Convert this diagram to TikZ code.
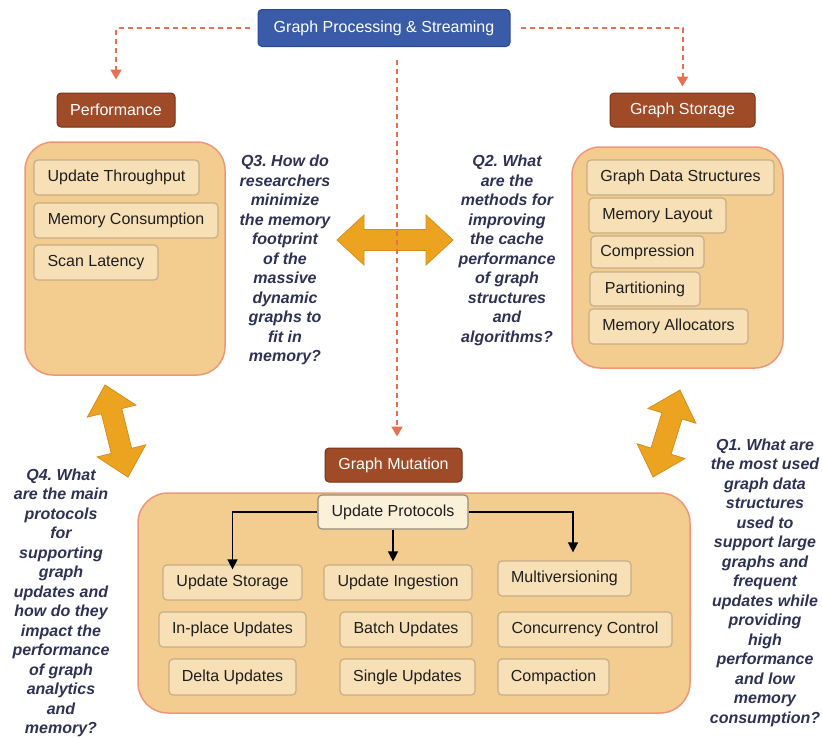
\documentclass[tikz,border=0pt]{standalone}
\usepackage{fontspec}
\setmainfont{Liberation Sans}
\usetikzlibrary{arrows.meta,calc}
\frenchspacing
\definecolor{topblue}{RGB}{58,92,168}
\definecolor{topblueb}{RGB}{44,74,140}
\definecolor{hbrown}{RGB}{160,75,40}
\definecolor{hbrownb}{RGB}{118,50,22}
\definecolor{panelfill}{RGB}{243,205,143}
\definecolor{panelborder}{RGB}{240,150,120}
\definecolor{subfill}{RGB}{248,224,182}
\definecolor{subborder}{RGB}{198,174,136}
\definecolor{upfill}{RGB}{251,240,216}
\definecolor{upborder}{RGB}{150,140,125}
\definecolor{bigarrowfill}{RGB}{236,164,32}
\definecolor{bigarrowborder}{RGB}{214,140,28}
\definecolor{dashcol}{RGB}{232,112,80}
\definecolor{qcol}{RGB}{45,50,85}
\definecolor{txtcol}{RGB}{30,30,30}
\newcommand{\dblarrow}[4]{%
  \begin{scope}[shift={(#1,#2)},rotate=#3]
    \pgfmathsetmacro{\arha}{#4/2}
    \pgfmathsetmacro{\arhb}{#4/2-27}
    \filldraw[bigarrow] (-\arha,0) -- (-\arhb,25) -- (-\arhb,10.5) -- (\arhb,10.5) -- (\arhb,25) -- (\arha,0)
      -- (\arhb,-25) -- (\arhb,-10.5) -- (-\arhb,-10.5) -- (-\arhb,-25) -- cycle;
  \end{scope}}
\begin{document}
\begin{tikzpicture}[x=1pt,y=-1pt,
  txt/.style={font=\fontsize{16}{19.5}\selectfont},
  headbox/.style={txt, draw=hbrownb, fill=hbrown, text=white, rounded corners=4pt, line width=1pt, inner sep=0pt, minimum height=34pt},
  topbox/.style={txt, draw=topblueb, fill=topblue, text=white, rounded corners=4pt, line width=1pt, inner sep=0pt, minimum height=37pt},
  panel/.style={draw=panelborder, fill=panelfill, rounded corners=28pt, line width=1.5pt, inner sep=0pt},
  subbox/.style={txt, draw=subborder, fill=subfill, text=txtcol, rounded corners=4pt, line width=1.2pt, inner sep=0pt, minimum height=35pt},
  upbox/.style={txt, draw=upborder, fill=upfill, text=txtcol, rounded corners=4pt, line width=1.2pt, inner sep=0pt, minimum height=34pt},
  qtext/.style={font=\fontsize{16}{19.5}\selectfont\bfseries\itshape, text=qcol, align=center, inner sep=0pt},
  dashconn/.style={draw=dashcol, line width=2pt, dash pattern=on 5pt off 4pt, -{Triangle[length=10pt,width=11pt]}},
  blackconn/.style={draw=black, line width=1.4pt, -{Triangle[length=10pt,width=10pt]}},
  bigarrow/.style={fill=bigarrowfill, draw=bigarrowborder, line width=0.8pt, line join=miter}
]
\useasboundingbox (0,0) rectangle (822,737);

% panels
\node[panel, minimum width=200pt, minimum height=233pt] (perfpanel) at (125,258.5) {};
\node[panel, minimum width=211pt, minimum height=221pt] (storpanel) at (677.5,257.5) {};
\node[panel, minimum width=552pt, minimum height=220pt, rounded corners=30pt] (mutpanel) at (414,603) {};

% header boxes
\node[topbox, minimum width=252pt] (top) at (384,28) {Graph Processing \& Streaming};
\node[headbox, minimum width=118pt] (perf) at (116,110) {Performance};
\node[headbox, minimum width=145pt] (gstor) at (682.5,110) {Graph Storage};
\node[headbox, minimum width=137pt] (mut) at (393.5,465) {Graph Mutation};

% performance items
\node[subbox, minimum width=165pt] (ut) at (116.5,177.5) {Update Throughput};
\node[subbox, minimum width=184pt] (mc) at (126,220.5) {Memory Consumption};
\node[subbox, minimum width=124pt] (sl) at (96,262.5) {Scan Latency};

% storage items
\node[subbox, minimum width=187pt] (gds) at (680.5,177.5) {Graph Data Structures};
\node[subbox, minimum width=137pt] (ml) at (657.5,215.5) {Memory Layout};
\node[subbox, minimum width=113pt, minimum height=32pt] (cp) at (647.5,252) {Compression};
\node[subbox, minimum width=110pt, minimum height=34pt] (pt) at (645,289) {Partitioning};
\node[subbox, minimum width=159pt] (ma) at (668.5,326.5) {Memory Allocators};

% mutation items
\node[upbox, minimum width=150pt] (up) at (393,512) {Update Protocols};
\node[subbox, minimum width=139pt] (us) at (232.5,582.5) {Update Storage};
\node[subbox, minimum width=148pt] (ui) at (398,582.5) {Update Ingestion};
\node[subbox, minimum width=133pt] (mv) at (564.5,578.5) {Multiversioning};
\node[subbox, minimum width=147pt] (ip) at (232.5,629.5) {In-place Updates};
\node[subbox, minimum width=132pt] (bu) at (406,629.5) {Batch Updates};
\node[subbox, minimum width=174pt] (cc) at (585,629.5) {Concurrency Control};
\node[subbox, minimum width=127pt, minimum height=36pt] (du) at (232.5,677) {Delta Updates};
\node[subbox, minimum width=135pt, minimum height=36pt] (su) at (407.5,677) {Single Updates};
\node[subbox, minimum width=111pt, minimum height=36pt] (cm) at (553.5,677) {Compaction};

% question texts
\node[qtext] (q3) at (285,260) {Q3. How do\\researchers\\minimize\\the memory\\footprint\\of the\\massive\\dynamic\\graphs to\\fit in\\memory?};
\node[qtext] (q2) at (507,250.5) {Q2. What\\are the\\methods for\\improving\\the cache\\performance\\of graph\\structures\\and\\algorithms?};
\node[qtext] (q4) at (61,603) {Q4. What\\are the main\\protocols\\for\\supporting\\graph\\updates and\\how do they\\impact the\\performance\\of graph\\analytics\\and\\memory?};
\node[qtext] (q1) at (765,582.5) {Q1. What are\\the most used\\graph data\\structures\\used to\\support large\\graphs and\\frequent\\updates while\\providing\\high\\performance\\and low\\memory\\consumption?};

% big orange double arrows
\dblarrow{395}{240}{0}{116}
\dblarrow{116.5}{431}{-76}{95}
\dblarrow{666.5}{433.5}{72.8}{91}

% dashed connectors
\draw[dashconn, shorten <=8pt, shorten >=13pt] (top.west) -| (perf.north);
\draw[dashconn, shorten <=10pt, shorten >=6pt] (top.east) -| (gstor.north);
\coordinate (midstart) at (397,60);
\draw[dashconn, shorten >=11pt] (midstart) -- (midstart |- mut.north);

% black connectors
\draw[blackconn, shorten >=-5pt] (up.west) -| (us.north);
\draw[blackconn, shorten >=3pt] (up.south) -- (up.south |- ui.north);
\draw[blackconn, shorten >=8pt] (up.east) -| ([xshift=8.5pt]mv.north);
\end{tikzpicture}
\end{document}
